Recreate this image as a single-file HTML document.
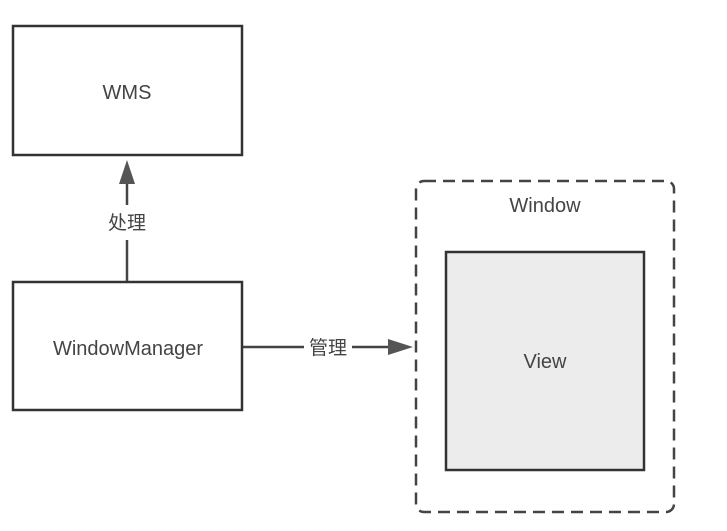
<!DOCTYPE html>
<html><head><meta charset="utf-8"><style>
html,body{margin:0;padding:0;background:#fff;}
svg{display:block;}
text{font-family:"Liberation Sans","Noto Sans CJK SC",sans-serif;fill:#444;}
</style></head><body>
<svg width="727" height="531" viewBox="0 0 727 531" xmlns="http://www.w3.org/2000/svg">
<rect x="13" y="26" width="229" height="129" fill="#fff" stroke="#333" stroke-width="2.5"/>
<text x="127" y="99" font-size="20" text-anchor="middle">WMS</text>
<rect x="13" y="282" width="229" height="128" fill="#fff" stroke="#333" stroke-width="2.5"/>
<text x="128" y="355" font-size="20" text-anchor="middle">WindowManager</text>
<line x1="127" y1="281" x2="127" y2="240" stroke="#444" stroke-width="2.5"/>
<line x1="127" y1="205" x2="127" y2="180" stroke="#444" stroke-width="2.5"/>
<polygon points="127,160 119,184 135,184" fill="#555"/>
<text x="127" y="229" font-size="19" text-anchor="middle">处理</text>
<line x1="243" y1="347" x2="304" y2="347" stroke="#444" stroke-width="2.5"/>
<line x1="352" y1="347" x2="392" y2="347" stroke="#444" stroke-width="2.5"/>
<polygon points="413,347 388,339 388,355" fill="#555"/>
<text x="328" y="354" font-size="19" text-anchor="middle">管理</text>
<rect x="416" y="181" width="258" height="331" rx="8" fill="none" stroke="#444" stroke-width="2.5" stroke-dasharray="12,7"/>
<text x="545" y="212" font-size="20" text-anchor="middle">Window</text>
<rect x="446" y="252" width="198" height="218" fill="#ececec" stroke="#333" stroke-width="2.5"/>
<text x="545" y="368" font-size="20" text-anchor="middle">View</text>
</svg>
</body></html>
